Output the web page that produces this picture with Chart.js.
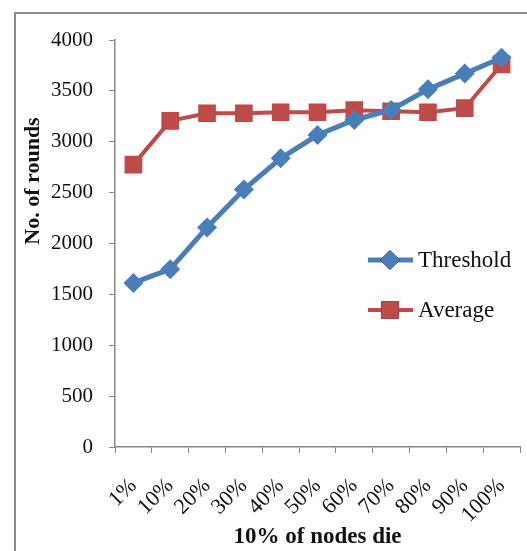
<!DOCTYPE html>
<html>
<head>
<meta charset="utf-8">
<script src="https://cdn.jsdelivr.net/npm/chart.js@4/dist/chart.umd.min.js"></script>
<style>
  html, body { margin: 0; padding: 0; background: #fff; }
  canvas { display: block; }
</style>
</head>
<body>
<canvas id="roundsChart" width="527" height="551"></canvas>
<script>
// data
const categories = ["1%", "10%", "20%", "30%", "40%", "50%", "60%", "70%", "80%", "90%", "100%"];
const thresholdRounds = [1613, 1748, 2158, 2530, 2837, 3066, 3214, 3312, 3515, 3670, 3825];
const averageRounds = [2775, 3205, 3280, 3280, 3290, 3290, 3310, 3300, 3290, 3330, 3760];
const yTicks = [0, 500, 1000, 1500, 2000, 2500, 3000, 3500, 4000];

const serif = "'Liberation Serif', 'Times New Roman', serif";
const axisGray = "#878787";

// frame + y title + legend drawn around the chart
const decorations = {
  id: "decorations",
  beforeDraw(chart) {
    const ctx = chart.ctx;
    ctx.save();
    ctx.strokeStyle = "#8a8a8a";
    ctx.lineWidth = 2;
    ctx.strokeRect(15, 13, 600, 600);
    ctx.restore();
  },
  afterDraw(chart) {
    const ctx = chart.ctx;
    const area = chart.chartArea;
    ctx.save();
    // y axis title
    ctx.translate(33, 181);
    ctx.rotate(-Math.PI / 2);
    ctx.font = "bold 22px " + serif;
    ctx.fillStyle = "#111";
    ctx.textAlign = "center";
    ctx.textBaseline = "middle";
    ctx.fillText("No. of rounds", 0, 0);
    ctx.restore();

    // legend
    const x0 = area.right - 152;
    chart.data.datasets.forEach((ds, i) => {
      const y = area.top + 220 + i * 50;
      ctx.save();
      ctx.strokeStyle = ds.borderColor;
      ctx.lineWidth = ds.borderWidth;
      ctx.beginPath();
      ctx.moveTo(x0, y);
      ctx.lineTo(x0 + 45, y);
      ctx.stroke();
      Chart.helpers.drawPoint(ctx, {
        pointStyle: ds.pointStyle,
        radius: ds.pointRadius,
        rotation: 0,
        borderWidth: 0
      }, x0 + 22, y);
      ctx.fillStyle = ds.borderColor;
      ctx.fill();
      ctx.font = "23px " + serif;
      ctx.fillStyle = "#111";
      ctx.textAlign = "left";
      ctx.textBaseline = "middle";
      ctx.fillText(ds.label, x0 + 50, y + 1);
      ctx.restore();
    });
  }
};

new Chart(document.getElementById("roundsChart"), {
  type: "line",
  data: {
    labels: categories,
    datasets: [
      {
        label: "Threshold",
        data: thresholdRounds,
        borderColor: "#4a7ebb",
        backgroundColor: "#4a7ebb",
        borderWidth: 5,
        pointStyle: "rectRot",
        pointRadius: 10,
        pointBorderWidth: 0,
        tension: 0
      },
      {
        label: "Average",
        data: averageRounds,
        borderColor: "#be4b48",
        backgroundColor: "#be4b48",
        borderWidth: 4,
        pointStyle: "rect",
        pointRadius: 12.5,
        pointBorderWidth: 0,
        tension: 0
      }
    ]
  },
  options: {
    responsive: false,
    devicePixelRatio: 1,
    animation: false,
    layout: { autoPadding: false, padding: { left: 0, top: 40, right: 7, bottom: 0 } },
    plugins: {
      legend: { display: false },
      tooltip: { enabled: false }
    },
    scales: {
      x: {
        offset: true,
        grid: { offset: true, drawOnChartArea: false, tickLength: 6, color: axisGray },
        border: { color: axisGray, width: 1.5 },
        ticks: {
          autoSkip: false,
          minRotation: 45,
          maxRotation: 45,
          padding: 20,
          color: "#111",
          font: { family: serif, size: 22 }
        },
        title: {
          display: true,
          text: "10% of nodes die",
          color: "#111",
          font: { family: serif, size: 23, weight: "bold" },
          padding: { top: 0, bottom: 0 }
        },
        afterFit(scale) {
          scale.height = 104;
          scale.paddingLeft = 0;
          scale.paddingRight = 0;
        }
      },
      y: {
        min: 0,
        max: 4000,
        afterBuildTicks(scale) { scale.ticks = yTicks.map(v => ({ value: v })); },
        grid: { drawOnChartArea: false, tickLength: 6, color: axisGray },
        border: { color: axisGray, width: 1.5 },
        ticks: {
          padding: 16,
          color: "#111",
          font: { family: serif, size: 21 },
          callback: v => String(v)
        },
        afterFit(scale) { scale.width = 115; }
      }
    }
  },
  plugins: [decorations]
});
</script>
</body>
</html>
